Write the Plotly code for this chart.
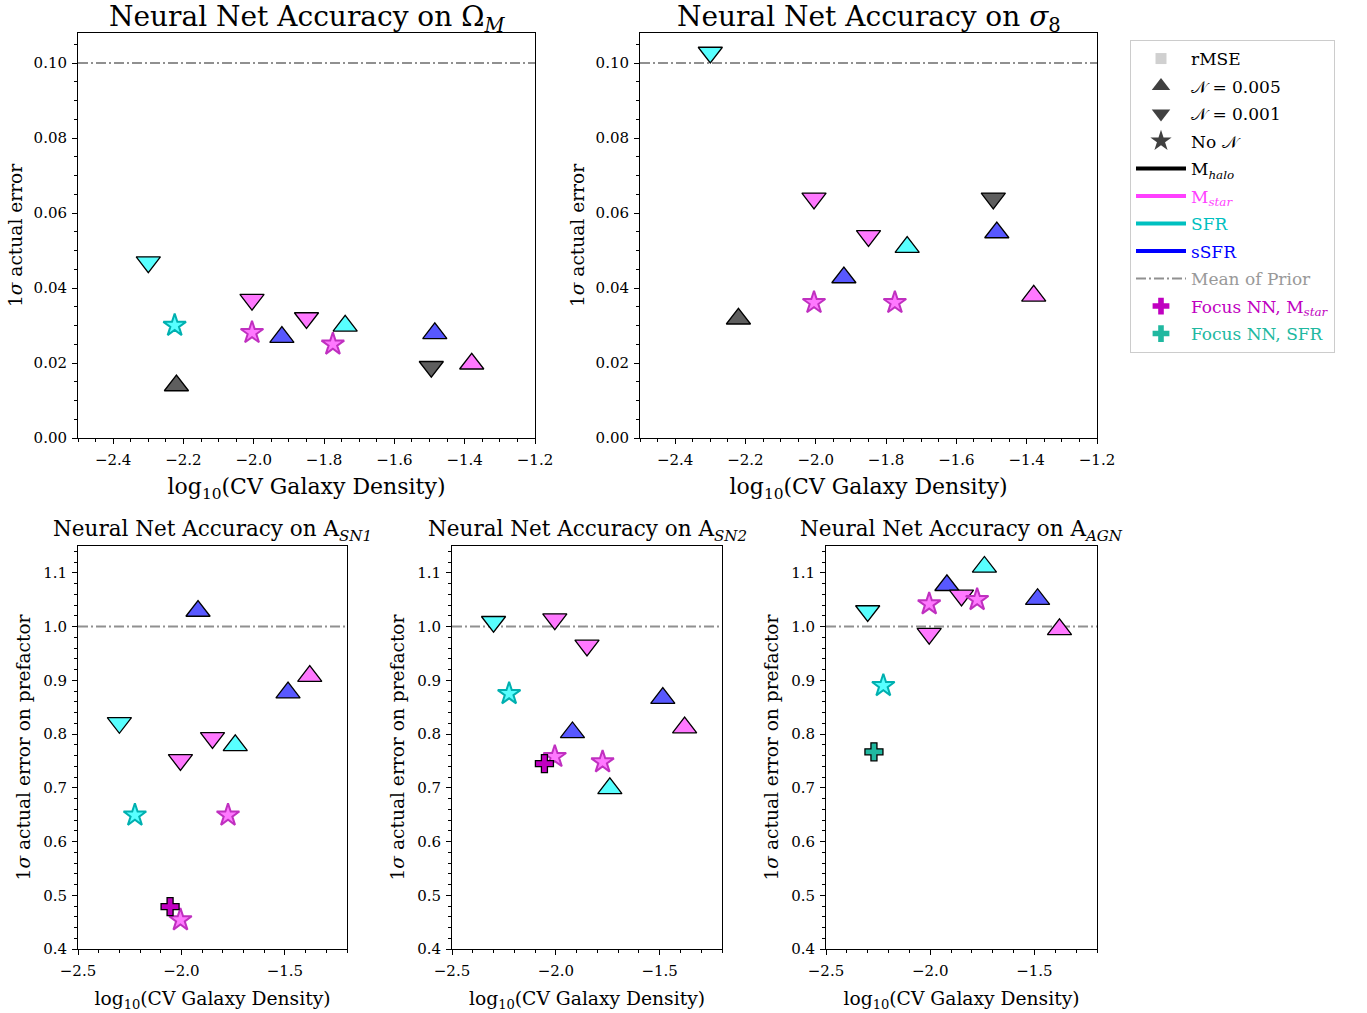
import plotly.graph_objects as go

# ---------------- data ----------------
# configurations: tracer, noise level, log10 CV galaxy density
cfg_tracer = ["SFR", "SFR", "halo", "mstar", "mstar", "sSFR", "mstar", "SFR", "mstar", "sSFR", "halo", "mstar"]
cfg_noise = ["0.001", "none", "0.005", "0.001", "none", "0.005", "0.001", "0.005", "none", "0.005", "0.001", "0.005"]
cfg_density = [-2.30, -2.225, -2.22, -2.005, -2.005, -1.92, -1.85, -1.74, -1.775, -1.485, -1.495, -1.38]

# 1-sigma actual error per configuration (None = not shown)
err_omega_m = [0.0469, 0.030, 0.014, 0.0369, 0.0281, 0.0269, 0.032, 0.0299, 0.025, 0.0279, 0.019, 0.0198]
err_sigma_8 = [0.1028, None, 0.0318, 0.0639, 0.0361, 0.0428, 0.0539, 0.0509, 0.0361, 0.0548, 0.0639, 0.0379]
err_a_sn1 = [0.821, 0.649, None, 0.752, 0.454, 1.029, 0.793, 0.779, 0.649, 0.877, None, 0.908]
err_a_sn2 = [1.009, 0.875, None, 1.014, 0.758, 0.803, 0.965, 0.699, 0.748, 0.867, None, 0.812]
err_a_agn = [1.029, 0.890, None, 0.987, 1.042, 1.077, 1.058, 1.111, 1.050, 1.051, None, 0.995]

# focus neural nets
focus_mstar_density = -2.055
focus_sfr_density = -2.27
focus_a_sn1 = ("mstar", 0.479)
focus_a_sn2 = ("mstar", 0.745)
focus_a_agn = ("SFR", 0.767)

prior_mean_cosmo = 0.10
prior_mean_astro = 1.0

# ---------------- styling ----------------
face = {"halo": "#5e5e5e", "mstar": "#ff78ff", "SFR": "#58ffff", "sSFR": "#5858ff"}
star_edge = {"halo": "#404040", "mstar": "#c030c0", "SFR": "#00b0b0", "sSFR": "#3030c0"}
symbol = {"0.005": "triangle-up", "0.001": "triangle-down", "none": "star"}
focus_color = {"mstar": "#c000c0", "SFR": "#20b8a0"}

FONT = "DejaVu Serif"
W, H = 1367, 1013


def px_x(a, b):
    return [a / W, b / W]


def px_y(top, bottom):
    return [1 - bottom / H, 1 - top / H]


fig = go.Figure()

panels = [
    ("1", err_omega_m, px_x(78, 535), px_y(33, 438), [0, 0.108], prior_mean_cosmo, None,
     "Neural Net Accuracy on Ω<sub><i>M</i></sub>", "1<i>σ</i> actual error", True),
    ("2", err_sigma_8, px_x(640, 1097), px_y(33, 438), [0, 0.108], prior_mean_cosmo, None,
     "Neural Net Accuracy on <i>σ</i><sub>8</sub>", "1<i>σ</i> actual error", True),
    ("3", err_a_sn1, px_x(78, 347), px_y(546, 949), [0.4, 1.15], prior_mean_astro, focus_a_sn1,
     "Neural Net Accuracy on A<sub><i>SN1</i></sub>", "1<i>σ</i> actual error on prefactor", False),
    ("4", err_a_sn2, px_x(452, 722), px_y(546, 949), [0.4, 1.15], prior_mean_astro, focus_a_sn2,
     "Neural Net Accuracy on A<sub><i>SN2</i></sub>", "1<i>σ</i> actual error on prefactor", False),
    ("5", err_a_agn, px_x(826, 1097), px_y(546, 949), [0.4, 1.15], prior_mean_astro, focus_a_agn,
     "Neural Net Accuracy on A<sub><i>AGN</i></sub>", "1<i>σ</i> actual error on prefactor", False),
]

layout_axes = {}
annotations = []
shapes = []
for (n, vals, dx, dy, yr, prior, focus, title, ylab, big) in panels:
    xa = "x" if n == "1" else "x" + n
    ya = "y" if n == "1" else "y" + n
    xs, ys, syms, fcs, lcs, lws, sizes = [], [], [], [], [], [], []
    for t, nz, d, v in zip(cfg_tracer, cfg_noise, cfg_density, vals):
        if v is None:
            continue
        xs.append(d)
        ys.append(v)
        syms.append(symbol[nz])
        fcs.append(face[t])
        if nz == "none":
            lcs.append(star_edge[t])
            lws.append(2)
            sizes.append(17)
        else:
            lcs.append("black")
            lws.append(1.3)
            sizes.append(21)
    fig.add_trace(go.Scatter(
        x=xs, y=ys, mode="markers", xaxis=xa, yaxis=ya, showlegend=False,
        marker=dict(symbol=syms, color=fcs, size=sizes, opacity=1,
                    line=dict(color=lcs, width=lws)),
    ))
    if focus is not None:
        ft, fv = focus
        fd = focus_mstar_density if ft == "mstar" else focus_sfr_density
        fig.add_trace(go.Scatter(
            x=[fd], y=[fv], mode="markers", xaxis=xa, yaxis=ya, showlegend=False,
            marker=dict(symbol="cross", color=focus_color[ft], size=15,
                        line=dict(color="black", width=1.3)),
        ))
    shapes.append(dict(type="line", xref=xa + " domain", yref=ya, x0=0, x1=1, y0=prior, y1=prior,
                       line=dict(color="#909090", width=2, dash="10px,3px,2px,3px"), layer="below"))

    tickfont = dict(family=FONT, size=15, color="black")
    xfont = dict(family=FONT, size=22 if big else 18.7, color="black")
    yfont = dict(family=FONT, size=18.6, color="black")
    key_x = "xaxis" if n == "1" else "xaxis" + n
    key_y = "yaxis" if n == "1" else "yaxis" + n
    if big:
        xt = dict(range=[-2.5, -1.2], tickvals=[-2.4, -2.2, -2.0, -1.8, -1.6, -1.4, -1.2],
                  tickformat=".1f", minor=dict(dtick=0.05, tick0=-2.5, ticks="outside", ticklen=3,
                                                tickcolor="black", showgrid=False))
        yt = dict(range=yr, tickvals=[0, 0.02, 0.04, 0.06, 0.08, 0.10], tickformat=".2f",
                  minor=dict(dtick=0.005, tick0=0, ticks="outside", ticklen=3, tickcolor="black",
                             showgrid=False))
    else:
        xt = dict(range=[-2.5, -1.2], tickvals=[-2.5, -2.0, -1.5], tickformat=".1f",
                  minor=dict(dtick=0.1, tick0=-2.5, ticks="outside", ticklen=3, tickcolor="black",
                             showgrid=False))
        yt = dict(range=yr, tickvals=[0.4, 0.5, 0.6, 0.7, 0.8, 0.9, 1.0, 1.1], tickformat=".1f",
                  minor=dict(dtick=0.02, tick0=0.4, ticks="outside", ticklen=3, tickcolor="black",
                             showgrid=False))
    common = dict(showgrid=False, zeroline=False, showline=True, linecolor="black", linewidth=1,
                  mirror=True, ticks="outside", ticklen=5, tickcolor="black", tickfont=tickfont,
                  automargin=False)
    layout_axes[key_x] = dict(domain=dx, anchor=ya, ticklabelstandoff=3,
                              title=dict(text="log<sub>10</sub>(CV Galaxy Density)", font=xfont,
                                         standoff=10 if big else 12), **xt, **common)
    layout_axes[key_y] = dict(domain=dy, anchor=xa, ticklabelstandoff=2,
                              title=dict(text=ylab, font=yfont, standoff=6 if big else 7),
                              **yt, **common)
    annotations.append(dict(text=title, xref="paper", yref="paper", x=(dx[0] + dx[1]) / 2,
                            y=dy[1], yanchor="bottom", xanchor="center",
                            yshift=-6 if big else -1, showarrow=False,
                            font=dict(family=FONT, size=28 if big else 21.5, color="black")))

# ---------------- legend (dummy traces) ----------------
legend_items = [
    ("rMSE", dict(mode="markers", marker=dict(symbol="square", color="#d0d0d0", size=11))),
    ("𝒩 = 0.005", dict(mode="markers", marker=dict(symbol="triangle-up", color="#404040", size=19))),
    ("𝒩 = 0.001", dict(mode="markers", marker=dict(symbol="triangle-down", color="#404040", size=19))),
    ("No 𝒩", dict(mode="markers", marker=dict(symbol="star", color="#404040", size=21))),
    ("M<sub><i>halo</i></sub>", dict(mode="lines", line=dict(color="black", width=4))),
    ("<span style='color:#ff40ff'>M<sub><i>star</i></sub></span>",
     dict(mode="lines", line=dict(color="#ff40ff", width=4))),
    ("<span style='color:#00c0c0'>SFR</span>", dict(mode="lines", line=dict(color="#00c0c0", width=4))),
    ("<span style='color:#0000ff'>sSFR</span>", dict(mode="lines", line=dict(color="#0000ff", width=4))),
    ("<span style='color:#999999'>Mean of Prior</span>",
     dict(mode="lines", line=dict(color="#909090", width=2, dash="10px,3px,2px,3px"))),
    ("<span style='color:#c000c0'>Focus NN, M<sub><i>star</i></sub></span>",
     dict(mode="markers", marker=dict(symbol="cross", color="#c000c0", size=14))),
    ("<span style='color:#20b8a0'>Focus NN, SFR</span>",
     dict(mode="markers", marker=dict(symbol="cross", color="#20b8a0", size=14))),
]
for i, (name, kw) in enumerate(legend_items):
    fig.add_trace(go.Scatter(x=[None], y=[None], name=name, showlegend=True,
                             legendgroup="g%d" % i, **kw))

fig.update_layout(
    width=W, height=H,
    margin=dict(l=0, r=0, t=0, b=0),
    paper_bgcolor="white", plot_bgcolor="white",
    font=dict(family=FONT, size=15, color="black"),
    annotations=annotations, shapes=shapes,
    legend=dict(x=1130 / W, y=1 - 40 / H, xanchor="left", yanchor="top",
                bgcolor="white", bordercolor="#cccccc", borderwidth=1,
                font=dict(family=FONT, size=17, color="black"), tracegroupgap=2.4,
                itemwidth=50),
    **layout_axes,
)

# remove the default 8px page margin so the figure sits at the window origin
fig.write_html("out.html", post_script="document.body.style.margin='0';",
               config={"displayModeBar": False})
